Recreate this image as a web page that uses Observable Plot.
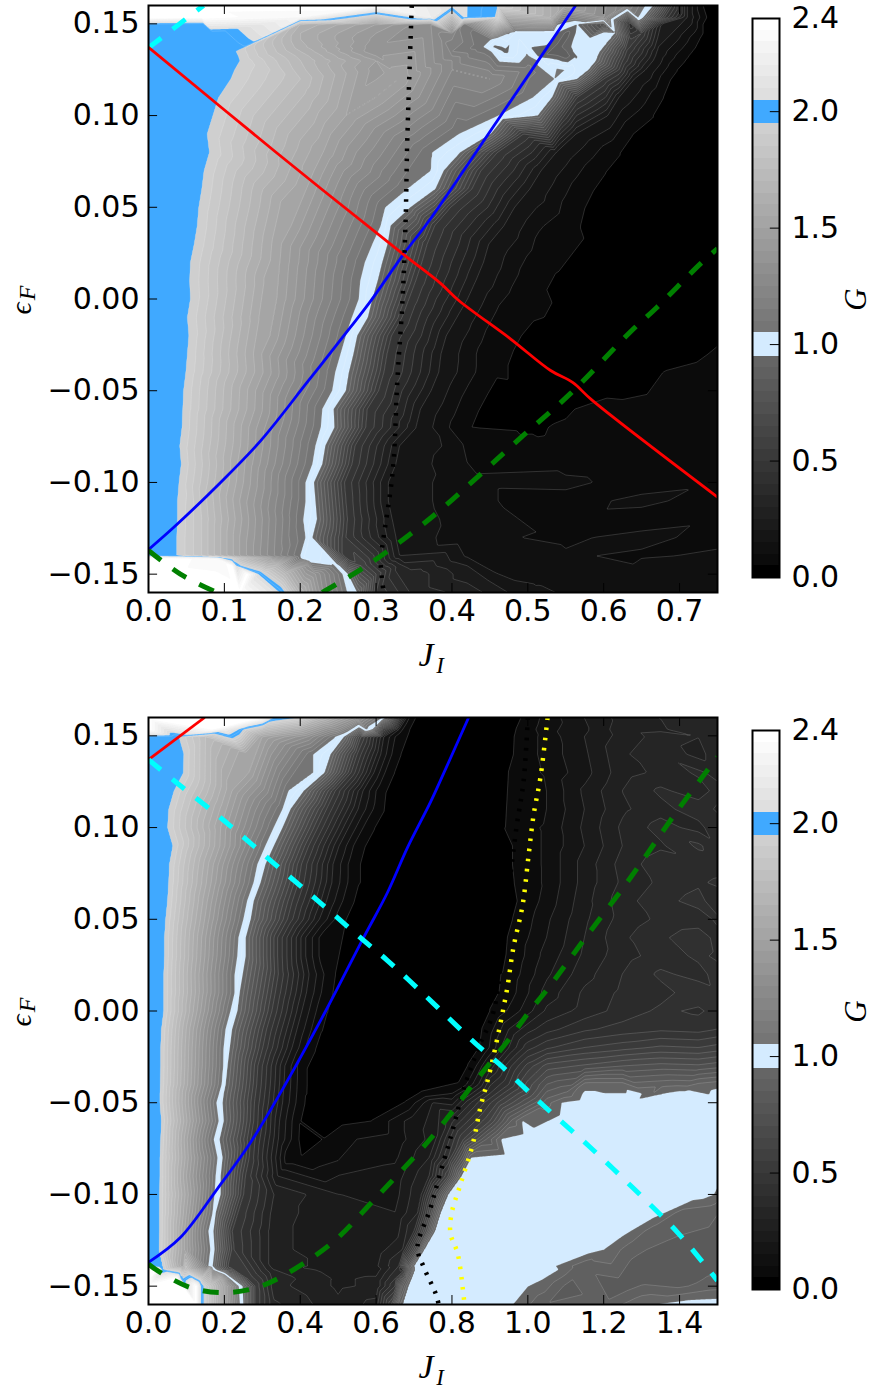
<!DOCTYPE html>
<html><head><meta charset="utf-8">
<script src="https://cdn.jsdelivr.net/npm/d3@7"></script>
<script src="https://cdn.jsdelivr.net/npm/@observablehq/plot@0.6"></script>
<style>html,body{margin:0;padding:0;background:#fff;overflow:hidden}#c{position:relative;width:874px;height:1390px}svg{position:absolute;overflow:visible}</style>
</head><body><div id="c"></div>
<script>
// Each row: [epsilon, J, G, J, G, ...], knots
const topRows = [
[.16,0,2.4,.3,2.38,.40,2.1,.42,2.05,.46,1.95,.55,1.5,.63,1.2,.655,1.05,.665,.95,.69,.5,.71,.2,.73,.05,.75,.03],
[.1535,0,2.4,.07,2.38,.2,2.3,.372,2.2,.416,2.06,.46,1.94,.53,1.6,.6,1.3,.645,1.06,.652,.95,.68,.5,.71,.2,.735,.05,.75,.03],
[.1498,0,1.99,.068,1.96,.072,1.95,.2,1.65,.3,1.45,.372,1.3,.416,1.12,.539,1.06,.565,.95,.6,.65,.635,.35,.68,.2,.73,.05,.75,.03],
[.145,0,1.99,.08,1.96,.085,1.95,.2,1.6,.3,1.4,.4,1.25,.475,1.06,.485,.98,.535,.97,.552,.88,.565,.96,.6,.97,.615,.95,.65,.5,.69,.2,.73,.05,.75,.03],
[.1415,0,1.99,.085,1.96,.088,1.95,.2,1.6,.3,1.38,.4,1.2,.45,1.06,.46,.98,.58,.98,.6,.95,.635,.5,.675,.2,.725,.05,.75,.03],
[.1375,0,1.99,.1,1.96,.105,1.95,.2,1.62,.3,1.36,.4,1.17,.44,1.06,.455,.94,.54,.88,.555,.94,.565,.98,.59,.97,.60,.95,.635,.5,.672,.2,.72,.05,.75,.03],
[.135,0,1.99,.11,1.96,.115,1.95,.2,1.65,.3,1.35,.4,1.15,.45,1.06,.47,.93,.54,.85,.558,.94,.565,.98,.585,.97,.595,.95,.63,.5,.67,.2,.715,.05,.75,.03],
[.1325,0,1.99,.115,1.96,.118,1.95,.2,1.68,.3,1.4,.4,1.2,.5,1.06,.515,.93,.55,.87,.563,.94,.57,.98,.585,.97,.592,.95,.628,.5,.668,.2,.71,.05,.75,.03],
[.13,0,1.99,.118,1.96,.12,1.95,.2,1.7,.3,1.45,.4,1.25,.51,1.07,.525,.98,.575,.98,.59,.95,.625,.5,.665,.2,.705,.05,.75,.03],
[.125,0,1.99,.11,1.96,.113,1.95,.2,1.72,.3,1.42,.4,1.25,.5,1.12,.54,1.06,.556,1.04,.565,.98,.575,.96,.58,.95,.62,.5,.655,.2,.694,.05,.75,.03],
[.12,0,1.99,.105,1.96,.108,1.95,.2,1.75,.33,1.5,.45,1.25,.535,1.05,.565,.95,.6,.5,.64,.2,.685,.05,.75,.03],
[.11,0,1.99,.092,1.95,.3,1.5,.507,1.05,.532,.95,.565,.5,.62,.2,.675,.05,.75,.03],
[.10,0,1.99,.05,1.95,.26,1.5,.461,1.05,.513,.95,.548,.5,.605,.2,.661,.05,.75,.03],
[.09,0,1.99,.077,1.95,.24,1.5,.409,1.05,.451,.95,.494,.5,.563,.2,.632,.05,.75,.03],
[.08,0,1.99,.08,1.95,.23,1.5,.374,1.05,.411,.95,.46,.5,.537,.2,.615,.05,.75,.03],
[.07,0,1.99,.073,1.95,.218,1.5,.372,1.05,.389,.95,.438,.5,.517,.2,.595,.05,.75,.03],
[.06,0,1.99,.07,1.95,.208,1.5,.341,1.05,.378,.95,.426,.5,.502,.2,.578,.05,.75,.03],
[.05,0,1.99,.066,1.95,.186,1.5,.312,1.05,.345,.95,.398,.5,.482,.2,.566,.05,.75,.03],
[.04,0,1.99,.064,1.95,.188,1.5,.306,1.05,.319,.95,.377,.5,.468,.2,.56,.05,.75,.03],
[.03,0,1.99,.06,1.95,.175,1.5,.295,1.05,.315,.95,.367,.5,.448,.2,.53,.05,.75,.03],
[.02,0,1.99,.055,1.95,.173,1.5,.285,1.05,.308,.95,.36,.5,.441,.2,.523,.05,.75,.03],
[.01,0,1.99,.054,1.95,.164,1.5,.279,1.05,.302,.95,.352,.5,.431,.2,.51,.05,.75,.03],
[0,0,1.99,.055,1.95,.169,1.5,.277,1.05,.295,.95,.343,.5,.42,.2,.497,.05,.75,.03],
[-.01,0,1.99,.051,1.95,.157,1.5,.268,1.05,.289,.95,.334,.5,.406,.2,.477,.05,.75,.035],
[-.02,0,1.99,.053,1.95,.16,1.5,.26,1.05,.275,.95,.32,.5,.392,.2,.464,.05,.75,.045],
[-.03,0,1.99,.051,1.95,.149,1.5,.253,1.05,.27,.95,.314,.5,.385,.2,.455,.05,.7,.04,.75,.052],
[-.04,0,1.99,.049,1.95,.151,1.5,.246,1.05,.264,.95,.31,.5,.382,.2,.455,.05,.66,.04,.68,.05,.75,.06],
[-.05,0,1.99,.046,1.95,.141,1.5,.242,1.05,.26,.95,.303,.5,.372,.2,.441,.05,.62,.045,.75,.065],
[-.06,0,1.99,.045,1.95,.14,1.5,.229,1.05,.244,.95,.288,.5,.358,.2,.428,.05,.55,.045,.58,.055,.75,.065],
[-.07,0,1.99,.044,1.95,.132,1.5,.227,1.05,.245,.95,.286,.5,.352,.2,.418,.05,.5,.04,.53,.05,.75,.065],
[-.08,0,1.99,.041,1.95,.131,1.5,.22,1.05,.233,.95,.272,.5,.33,.2,.42,.09,.55,.06,.65,.07,.75,.06],
[-.09,0,1.99,.043,1.95,.127,1.5,.216,1.05,.229,.95,.268,.5,.325,.2,.42,.1,.55,.075,.65,.06,.75,.08],
[-.10,0,1.99,.04,1.95,.125,1.5,.207,1.05,.218,.95,.258,.5,.315,.2,.42,.11,.55,.115,.65,.07,.75,.09],
[-.11,0,1.99,.038,1.95,.12,1.5,.207,1.05,.22,.95,.26,.5,.315,.2,.42,.11,.55,.075,.65,.115,.75,.07],
[-.12,0,1.99,.038,1.95,.07,1.8,.123,1.5,.204,1.05,.222,.95,.262,.5,.32,.2,.42,.12,.55,.08,.65,.07,.75,.09],
[-.13,0,1.99,.037,1.95,.07,1.8,.12,1.5,.207,1.05,.216,.95,.26,.5,.325,.2,.42,.11,.55,.09,.65,.115,.75,.08],
[-.14,0,1.99,.037,1.95,.07,1.8,.09,1.68,.1,1.62,.11,1.56,.12,1.5,.16,1.28,.2,1.05,.211,.95,.26,.5,.33,.2,.42,.14,.55,.105,.65,.09,.75,.11],
[-.1415,0,2.4,.037,2.38,.07,2.33,.09,2.3,.1,2.04,.11,1.9,.12,1.75,.16,1.45,.2,1.06,.212,.95,.265,.5,.33,.25,.42,.16,.55,.105,.65,.1,.75,.11],
[-.1455,0,2.4,.11,2.38,.116,2.05,.122,1.95,.17,1.65,.21,1.3,.245,1.06,.252,.95,.28,.6,.33,.32,.42,.2,.55,.12,.65,.105,.75,.1],
[-.15,0,2.4,.13,2.38,.145,2.05,.152,1.95,.18,1.7,.22,1.35,.255,1.06,.263,.95,.3,.55,.35,.33,.42,.22,.55,.13,.65,.12,.75,.11],
[-.16,0,2.4,.12,2.38,.172,2.06,.18,1.95,.2,1.65,.23,1.3,.262,1.05,.275,.95,.3,.5,.35,.33,.42,.28,.5,.16,.6,.13,.75,.12]
];
const bottomRows = [
[.16,0,2.4,.3,2.36,.33,2.06,.393,1.95,.45,1.7,.55,1.35,.615,1.06,.625,.95,.66,.4,.68,.15,.696,.05,.85,.03,.989,.05,1.05,.12,1.15,.2,1.25,.27,1.35,.3,1.45,.3,1.5,.32],
[.1535,0,2.4,.17,2.36,.2,2.2,.235,2.06,.25,1.95,.3,1.75,.4,1.55,.5,1.25,.575,1.06,.59,.95,.62,.45,.66,.15,.68,.05,.85,.03,.975,.05,1.05,.13,1.15,.19,1.25,.28,1.35,.29,1.45,.34,1.5,.3],
[.1495,0,1.99,.07,1.96,.08,1.95,.15,1.75,.3,1.5,.42,1.3,.49,1.06,.515,.95,.56,.55,.62,.2,.665,.05,.85,.03,.97,.05,1.05,.12,1.15,.2,1.25,.27,1.35,.32,1.45,.3,1.5,.32],
[.14,0,1.99,.093,1.95,.26,1.5,.435,1.05,.48,.95,.55,.5,.612,.2,.656,.05,.85,.03,.968,.05,1.05,.12,1.15,.19,1.25,.29,1.35,.34,1.45,.28,1.5,.33],
[.13,0,1.99,.092,1.95,.265,1.5,.435,1.05,.464,.95,.534,.5,.594,.2,.638,.05,.85,.03,.954,.05,1.05,.11,1.15,.18,1.25,.28,1.35,.31,1.45,.36,1.5,.33],
[.12,0,1.99,.067,1.95,.22,1.5,.369,1.05,.409,.95,.492,.5,.565,.2,.617,.05,.85,.03,1.007,.05,1.05,.10,1.15,.21,1.25,.3,1.35,.36,1.45,.32,1.5,.37],
[.11,0,1.99,.053,1.95,.205,1.5,.353,1.05,.374,.95,.469,.5,.552,.2,.612,.05,.85,.03,1.002,.05,1.05,.10,1.15,.2,1.25,.29,1.35,.33,1.45,.38,1.5,.34],
[.10,0,1.99,.05,1.95,.19,1.5,.33,1.05,.353,.95,.446,.5,.527,.2,.585,.05,.8,.03,.946,.05,1.05,.11,1.15,.21,1.25,.31,1.35,.37,1.45,.33,1.5,.39],
[.09,0,1.99,.064,1.95,.188,1.5,.308,1.05,.33,.95,.422,.5,.502,.2,.559,.05,.8,.03,.968,.05,1.05,.11,1.15,.2,1.25,.3,1.35,.34,1.45,.41,1.5,.36],
[.08,0,1.99,.055,1.95,.171,1.5,.287,1.05,.308,.95,.403,.5,.486,.2,.546,.05,.8,.03,.968,.05,1.05,.11,1.15,.22,1.25,.32,1.35,.38,1.45,.36,1.5,.37],
[.07,0,1.99,.053,1.95,.165,1.5,.277,1.05,.295,.95,.395,.5,.483,.2,.546,.05,.8,.03,.973,.05,1.05,.11,1.15,.22,1.25,.31,1.35,.36,1.45,.39,1.5,.41],
[.06,0,1.99,.05,1.95,.155,1.5,.26,1.05,.277,.95,.379,.5,.469,.2,.533,.05,.8,.03,.981,.05,1.05,.12,1.15,.23,1.25,.33,1.35,.38,1.45,.42,1.5,.36],
[.05,0,1.99,.045,1.95,.148,1.5,.25,1.05,.269,.95,.366,.5,.45,.2,.511,.05,.8,.03,.968,.05,1.05,.14,1.15,.24,1.25,.32,1.35,.36,1.45,.37,1.5,.41],
[.04,0,1.99,.042,1.95,.14,1.5,.237,1.05,.256,.95,.34,.5,.414,.2,.467,.05,.7,.03,.954,.05,1.05,.15,1.15,.25,1.25,.34,1.35,.39,1.45,.43,1.5,.38],
[.03,0,1.99,.042,1.95,.138,1.5,.234,1.05,.256,.95,.34,.5,.414,.2,.467,.05,.7,.03,.95,.05,1.05,.17,1.15,.26,1.25,.33,1.35,.37,1.45,.41,1.5,.39],
[.02,0,1.99,.04,1.95,.133,1.5,.227,1.05,.248,.95,.342,.5,.423,.2,.482,.05,.7,.03,.941,.05,1.05,.19,1.15,.28,1.25,.35,1.35,.41,1.45,.38,1.5,.42],
[.01,0,1.99,.04,1.95,.134,1.5,.227,1.05,.24,.95,.334,.5,.416,.2,.475,.05,.7,.03,.936,.05,1.05,.22,1.15,.31,1.25,.36,1.35,.38,1.45,.43,1.5,.41],
[0,0,1.99,.04,1.95,.128,1.5,.216,1.05,.234,.95,.325,.5,.404,.2,.461,.05,.7,.03,.91,.05,1.0,.18,1.05,.26,1.15,.32,1.25,.37,1.35,.41,1.45,.39,1.5,.42],
[-.01,0,1.99,.034,1.95,.118,1.5,.203,1.05,.22,.95,.311,.5,.391,.2,.448,.05,.7,.03,.888,.05,.95,.2,1.0,.28,1.05,.33,1.15,.39,1.25,.42,1.35,.44,1.45,.43,1.5,.45],
[-.02,0,1.99,.032,1.95,.115,1.5,.198,1.05,.214,.95,.301,.5,.378,.2,.432,.05,.7,.03,.881,.05,.95,.25,1.0,.38,1.05,.44,1.15,.5,1.25,.53,1.35,.56,1.45,.55,1.5,.57],
[-.03,0,1.99,.032,1.95,.114,1.5,.197,1.05,.208,.95,.288,.5,.359,.2,.409,.05,.65,.03,.849,.05,.9,.22,.95,.38,1.0,.52,1.05,.62,1.15,.66,1.25,.7,1.35,.72,1.45,.71,1.5,.73],
[-.04,0,1.99,.031,1.95,.112,1.5,.193,1.05,.203,.95,.285,.5,.357,.2,.409,.05,.6,.03,.823,.05,.87,.2,.95,.45,1.0,.62,1.05,.75,1.15,.92,1.25,.92,1.35,.88,1.45,.91,1.5,.93],
[-.045,0,1.99,.03,1.95,.106,1.5,.186,1.05,.198,.95,.282,.5,.355,.2,.408,.05,.6,.035,.72,.05,.8,.1,.9,.4,1.0,.65,1.1,.86,1.15,.96,1.27,.97,1.3,.95,1.33,.9,1.36,.95,1.41,.97,1.5,.97],
[-.05,0,1.99,.03,1.95,.105,1.5,.179,1.05,.195,.95,.279,.5,.353,.2,.406,.05,.55,.035,.68,.05,.75,.2,.85,.35,.92,.55,1.0,.75,1.05,.88,1.09,.95,1.15,.98,1.27,.98,1.5,.98],
[-.06,0,1.99,.034,1.95,.11,1.5,.185,1.05,.198,.95,.277,.5,.345,.2,.395,.05,.5,.035,.593,.05,.7,.18,.8,.34,.9,.6,.96,.87,.985,.95,1.1,.98,1.5,.98],
[-.07,0,1.99,.032,1.95,.102,1.5,.172,1.05,.187,.95,.269,.5,.342,.2,.393,.05,.43,.04,.461,.05,.55,.1,.65,.12,.75,.22,.83,.55,.89,.8,.93,.95,1.0,.98,1.5,.98],
[-.08,0,1.99,.03,1.95,.105,1.5,.182,1.05,.195,.95,.265,.5,.335,.2,.37,.05,.40,.05,.5,.09,.65,.14,.74,.25,.79,.45,.83,.75,.85,.95,.95,.98,1.5,.98],
[-.09,0,1.99,.03,1.95,.1,1.5,.177,1.05,.19,.95,.255,.5,.34,.2,.5,.15,.65,.17,.74,.3,.79,.6,.825,.95,.95,.98,1.5,.98],
[-.10,0,1.99,.029,1.95,.105,1.5,.174,1.05,.19,.95,.25,.5,.33,.3,.5,.2,.65,.18,.72,.3,.76,.65,.79,.95,.9,.98,1.45,.98,1.49,.95,1.5,.93],
[-.11,0,1.99,.029,1.95,.1,1.5,.169,1.05,.177,.95,.235,.5,.33,.28,.5,.2,.65,.2,.71,.3,.745,.65,.77,.95,.9,.98,1.33,.98,1.36,.95,1.4,.88,1.5,.85],
[-.12,0,1.99,.029,1.95,.095,1.5,.158,1.05,.171,.95,.22,.5,.33,.27,.5,.2,.65,.22,.70,.35,.735,.7,.755,.95,.9,.98,1.24,.98,1.27,.95,1.33,.87,1.5,.84],
[-.13,0,1.99,.028,1.95,.095,1.5,.163,1.05,.174,.95,.225,.5,.33,.27,.5,.2,.6,.22,.67,.3,.71,.7,.727,.95,.9,.98,1.16,.98,1.2,.95,1.28,.86,1.4,.83,1.5,.82],
[-.139,0,1.99,.028,1.95,.09,1.5,.158,1.05,.169,.95,.215,.5,.33,.27,.5,.23,.6,.24,.66,.35,.685,.75,.70,.95,.9,.98,1.05,.98,1.073,.95,1.15,.86,1.3,.83,1.4,.82,1.5,.84],
[-.141,0,2.4,.03,2.3,.035,2.05,.04,1.95,.1,1.75,.16,1.45,.17,1.06,.178,.95,.21,.6,.33,.3,.5,.22,.6,.22,.67,.33,.69,.75,.702,.95,.9,.98,1.05,.98,1.08,.95,1.15,.86,1.3,.83,1.4,.82,1.5,.84],
[-.146,0,2.4,.075,2.38,.085,2.05,.09,1.95,.14,1.8,.19,1.5,.215,1.06,.222,.95,.26,.55,.33,.33,.5,.24,.6,.26,.65,.4,.68,.8,.693,.95,.88,.98,1.02,.98,1.04,.95,1.12,.85,1.3,.82,1.4,.83,1.5,.86],
[-.15,0,2.4,.125,2.38,.138,2.05,.145,1.95,.165,1.8,.2,1.5,.237,1.06,.248,.95,.28,.55,.33,.32,.5,.24,.6,.26,.65,.45,.67,.8,.685,.95,.85,.98,.98,.98,1.0,.95,1.1,.84,1.25,.82,1.4,.84,1.5,.88],
[-.16,0,2.4,.125,2.38,.138,2.05,.145,1.95,.165,1.8,.2,1.5,.24,1.06,.25,.95,.28,.55,.33,.36,.5,.26,.6,.32,.64,.6,.66,.88,.67,.95,.8,.98,.94,.98,.96,.95,1.05,.85,1.2,.86,1.3,.94,1.34,.95,1.4,.97,1.5,.98]
];
// Curves, [J, epsilon]
const topRed = [[0,.1372],[.168,.08],[.336,.0243],[.385,.0085],[.409,-.0008],[.477,-.0217],[.53,-.039],[.559,-.0455],[.585,-.0553],[.75,-.108]];
const topBlue = [[0,-.1366],[.033,-.1246],[.095,-.1],[.148,-.0772],[.209,-.0455],[.266,-.0155],[.293,-.001],[.336,.0243],[.372,.0439],[.46,.0973],[.563,.16]];
const topBlack = [[.347,.16],[.341,.0848],[.339,.0444],[.335,.0008],[.328,-.0444],[.322,-.0935],[.308,-.1355],[.306,-.144],[.31,-.16]];
const topGreenA = [[0,-.137],[.042,-.15],[.09,-.16]];
const topGreenB = [[.229,-.16],[.27,-.15],[.31,-.139],[.376,-.118],[.435,-.0965],[.494,-.0744],[.556,-.0516],[.635,-.018],[.67,-.0046],[.728,.0194],[.75,.0275]];
const topCyan = [[0,.137],[.0725,.16]];
const botRed = [[0,.137],[.148,.16]];
const botCyan = [[0,.137],[.071,.125],[.198,.104],[.322,.082],[.446,.0602],[.567,.0385],[.63,.0275],[.749,.0046],[.775,-.0006],[.862,-.0177],[.923,-.0286],[1.041,-.0515],[1.165,-.0744],[1.279,-.0968],[1.395,-.1208],[1.5,-.147]];
const botBlue = [[0,-.137],[.084,-.1235],[.182,-.0968],[.269,-.0717],[.356,-.0417],[.467,0],[.567,.04],[.63,.0646],[.683,.0892],[.743,.1137],[.778,.1295],[.844,.16]];
const botYellow = [[1.052,.16],[1.034,.1284],[1.015,.1066],[1.002,.0848],[.986,.0575],[.962,.0346],[.946,.0128],[.936,.0019],[.915,-.0194],[.896,-.0363],[.875,-.0526],[.854,-.0733],[.823,-.0941],[.799,-.1104],[.796,-.1213],[.815,-.1322],[.83,-.154],[.833,-.16]];
const botBlack = [[1.0,.16],[.989,.1257],[.97,.1],[.94,.05],[.91,0],[.87,-.02],[.83,-.0433],[.80,-.0663],[.765,-.0914],[.743,-.1077],[.709,-.129],[.725,-.1394],[.757,-.154],[.765,-.16]];
const botGreen = [[0,-.138],[.032,-.1426],[.111,-.1508],[.19,-.1535],[.277,-.1513],[.356,-.1442],[.485,-.1262],[.593,-.1033],[.704,-.0788],[.757,-.0663],[.809,-.0526],[.857,-.0395],[.91,-.0259],[.96,-.0128],[1.002,-.0008],[1.055,.0128],[1.152,.04],[1.25,.0668],[1.297,.0804],[1.389,.1077],[1.487,.135],[1.5,.1385]];
const yTicks = [-.15,-.10,-.05,0,.05,.10,.15];
const topXTicks = [0,.1,.2,.3,.4,.5,.6,.7];
const botXTicks = [0,.2,.4,.6,.8,1,1.2,1.4];
const barTicks = [0,.5,1,1.5,2,2.4];
const levels = d3.range(48).map(i => +(i * .05).toFixed(2));
const lightBand = "#d4ebff", blueBand = "#40a9ff";
const colors = levels.map((l, i) => {
  if (i === 19 || i === 20) return lightBand;
  if (i === 39 || i === 40) return blueBand;
  if (i === 0) return "#000";
  const v = Math.round(255 * (i + 1) / 48);
  return `rgb(${v},${v},${v})`;
});
const colorScale = {type: "threshold", domain: levels.slice(1), range: colors};
const FONT = "DejaVu Sans", MATH = "Liberation Serif";
const eDomain = [-.16, .16];
// the small offset keeps knots off the exact contour thresholds
const samples = rows => rows.flatMap(r => {
  const out = [];
  for (let i = 1; i < r.length; i += 2) out.push({e: r[0], j: r[i], g: r[i + 1] + .001});
  return out;
});
const px = d => d[0], py = d => d[1];
const curve = (data, stroke, strokeWidth, strokeDasharray) => Plot.line(data, {x: px, y: py, stroke, strokeWidth, strokeDasharray, clip: true, curve: "catmull-rom", strokeLinecap: "butt", strokeLinejoin: "round"});
const DASH = "16,14.5", DOT = "2.6,7.6";
function panel(rows, jMax, xTicks, xFmt, curves, top) {
  const xLen = jMax * .016, yLen = .0049;
  const svg = Plot.plot({
    width: 719, height: 680, marginLeft: 148, marginRight: 2, marginTop: 5, marginBottom: 88,
    style: {fontFamily: FONT, fontSize: "30px", background: "transparent", color: "#000"},
    x: {domain: [0, jMax]}, y: {domain: eDomain}, color: colorScale,
    marks: [
      Plot.contour(samples(rows), {x: "j", y: "e", value: "g", fill: "value", thresholds: levels, interpolate: "barycentric", pixelSize: 1, stroke: "#fff", strokeOpacity: .26, strokeWidth: .6}),
      ...curves,
      Plot.ruleX(xTicks, {x: d => d, y1: eDomain[0], y2: eDomain[0] + yLen, stroke: "#000", strokeWidth: 1}),
      Plot.ruleX(xTicks, {x: d => d, y1: eDomain[1], y2: eDomain[1] - yLen, stroke: "#000", strokeWidth: 1}),
      Plot.ruleY(yTicks, {y: d => d, x1: 0, x2: xLen, stroke: "#000", strokeWidth: 1}),
      Plot.ruleY(yTicks, {y: d => d, x1: jMax, x2: jMax - xLen, stroke: "#000", strokeWidth: 1}),
      Plot.frame({stroke: "#000", strokeWidth: 2}),
      Plot.axisX({ticks: xTicks, tickFormat: xFmt, tickSize: 0, tickPadding: 7, label: null, fontSize: 30}),
      Plot.axisY({ticks: yTicks, tickFormat: d3.format(".2f"), tickSize: 0, tickPadding: 9, label: null, fontSize: 30}),
      Plot.text(["J"], {frameAnchor: "middle", dx: -7, dy: 356.5, fontFamily: MATH, fontStyle: "italic", fontSize: 34, fill: "#000"}),
      Plot.text(["I"], {frameAnchor: "middle", dx: 7, dy: 367, fontFamily: MATH, fontStyle: "italic", fontSize: 23, fill: "#000"}),
      Plot.text(["\u03F5"], {frameAnchor: "middle", dx: -412, dy: 9.5, rotate: -90, fontFamily: MATH, fontStyle: "italic", fontSize: 30, fill: "#000"}),
      Plot.text(["F"], {frameAnchor: "middle", dx: -406, dy: -6, rotate: -90, fontFamily: MATH, fontStyle: "italic", fontSize: 24, fill: "#000"})
    ]
  });
  svg.style.left = "0px"; svg.style.top = top + "px";
  return svg;
}
function colorbar(top) {
  const svg = Plot.plot({
    width: 124, height: 600, marginLeft: 2, marginRight: 95, marginTop: 18, marginBottom: 23,
    style: {fontFamily: FONT, fontSize: "30px", background: "transparent", color: "#000"},
    x: {domain: [0, 1], axis: null}, y: {domain: [0, 2.4]}, color: colorScale,
    marks: [
      Plot.rect(levels, {x1: 0, x2: 1, y1: d => d, y2: d => d + .05, fill: d => d, shapeRendering: "crispEdges"}),
      Plot.ruleY(barTicks, {y: d => d, x1: .66, x2: 1, stroke: "#000", strokeWidth: 1}),
      Plot.frame({stroke: "#000", strokeWidth: 2}),
      Plot.axisY({anchor: "right", ticks: barTicks, tickFormat: d3.format(".1f"), tickSize: 0, tickPadding: 12, label: null, fontSize: 30}),
      Plot.text(["G"], {frameAnchor: "middle", dx: 90, dy: 1.5, rotate: -90, fontFamily: MATH, fontStyle: "italic", fontSize: 31, fill: "#000"})
    ]
  });
  svg.style.left = "750px"; svg.style.top = top + "px";
  return svg;
}
const c = document.getElementById("c");
c.append(panel(topRows, .75, topXTicks, d3.format(".1f"), [
  curve(topCyan, "#00ffff", 5, DASH),
  curve(topBlue, "#0000ff", 2.8),
  curve(topRed, "#ff0000", 2.8),
  curve(topBlack, "#000", 4.5, DOT),
  curve(topGreenA, "#008000", 5, DASH),
  curve(topGreenB, "#008000", 5, DASH)
], 0));
c.append(panel(bottomRows, 1.5, botXTicks, d3.format(".1f"), [
  curve(botRed, "#ff0000", 2.8),
  curve(botBlue, "#0000ff", 2.8),
  curve(botBlack, "#000", 4.5, DOT),
  curve(botGreen, "#008000", 5, DASH),
  curve(botYellow, "#ffff00", 4.5, DOT),
  curve(botCyan, "#00ffff", 5, DASH)
], 712));
c.append(colorbar(0));
c.append(colorbar(712));
</script></body></html>
